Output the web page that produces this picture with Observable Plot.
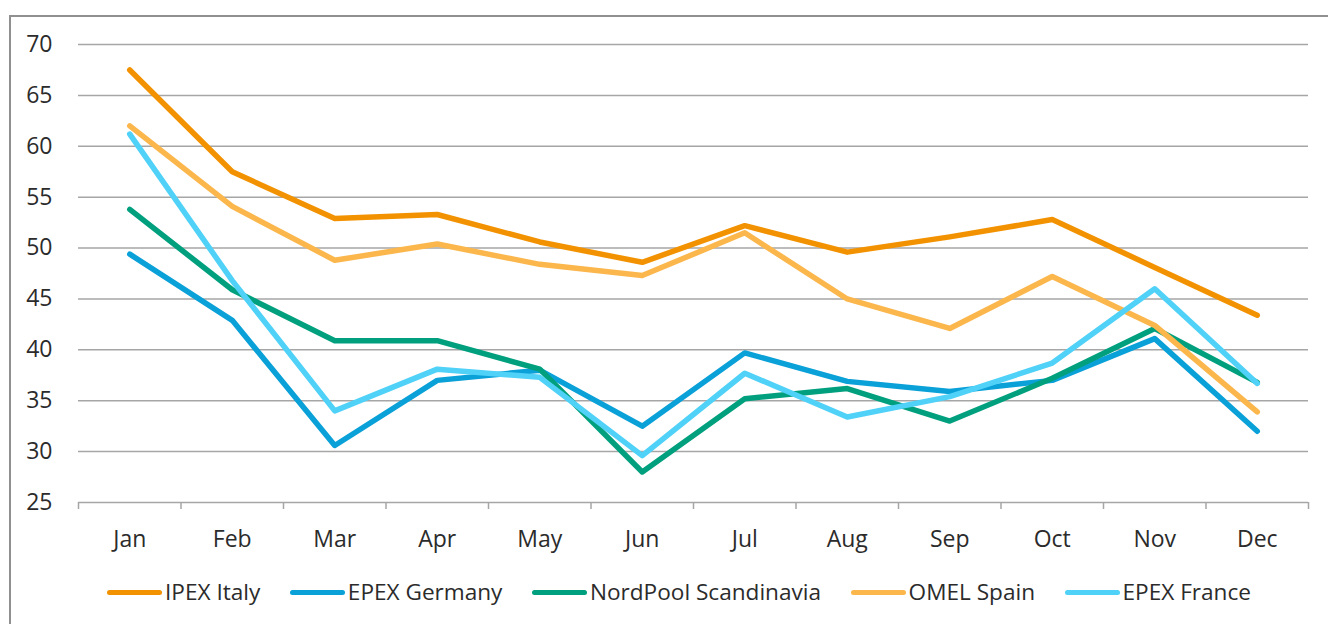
<!DOCTYPE html>
<html>
<head>
<meta charset="utf-8">
<script src="https://cdn.jsdelivr.net/npm/d3@7"></script>
<script src="https://cdn.jsdelivr.net/npm/@observablehq/plot@0.6"></script>
<style>
  html, body { margin: 0; padding: 0; background: #fff; overflow: hidden; }
  body { width: 1328px; height: 624px; position: relative; font-family: "Open Sans", sans-serif; }
  #frame { position: absolute; left: 9px; top: 15px; width: 1340px; height: 640px; border: 2px solid #909090; box-sizing: border-box; }
  #chart { position: absolute; left: 0; top: 0; }
  #legend { position: absolute; left: 107px; top: 576px; display: flex; align-items: center; font-size: 22.6px; line-height: 32px; color: #2b2b2b; white-space: nowrap; }
  .item { display: flex; align-items: center; margin-right: 29.5px; }
  .sw { display: inline-block; width: 55px; height: 5px; border-radius: 3px; margin-right: 3px; }
</style>
</head>
<body>
<div id="frame"></div>
<div id="chart"></div>
<div id="legend"></div>
<script>
const months = ["Jan","Feb","Mar","Apr","May","Jun","Jul","Aug","Sep","Oct","Nov","Dec"];
const seriesNames = ["IPEX Italy", "EPEX Germany", "NordPool Scandinavia", "OMEL Spain", "EPEX France"];
const seriesColors = ["#f39200", "#0aa0d8", "#00a07e", "#fbb64c", "#4fd1f8"];
const italy    = [67.5, 57.5, 52.9, 53.3, 50.6, 48.6, 52.2, 49.6, 51.1, 52.8, 48.1, 43.4];
const germany  = [49.4, 42.9, 30.6, 37.0, 38.0, 32.5, 39.7, 36.9, 35.9, 37.0, 41.1, 32.0];
const nordpool = [53.8, 45.9, 40.9, 40.9, 38.1, 28.0, 35.2, 36.2, 33.0, 37.2, 42.1, 36.8];
const spain    = [62.0, 54.1, 48.8, 50.4, 48.4, 47.3, 51.5, 45.0, 42.1, 47.2, 42.4, 33.9];
const france   = [61.2, 46.8, 34.0, 38.1, 37.3, 29.6, 37.7, 33.4, 35.4, 38.7, 46.0, 36.7];
const yTicks = [25, 30, 35, 40, 45, 50, 55, 60, 65, 70];

const seriesValues = [italy, germany, nordpool, spain, france];
const data = [];
seriesNames.forEach((name, s) => {
  seriesValues[s].forEach((v, i) => data.push({series: name, i, month: months[i], value: v}));
});
const idx = months.map((m, i) => i);
const boundaries = months.map((m, i) => i - 0.5).concat([months.length - 0.5]);

const chart = Plot.plot({
  width: 1328,
  height: 560,
  marginTop: 44,
  marginBottom: 58,
  marginLeft: 78,
  marginRight: 20,
  style: {fontFamily: "Open Sans, sans-serif", fontSize: "23px", color: "#2b2b2b", background: "transparent"},
  x: {type: "linear", domain: [-0.5, months.length - 0.5], axis: null},
  y: {domain: [25, 70], axis: null},
  color: {domain: seriesNames, range: seriesColors},
  marks: [
    Plot.gridY(yTicks.filter(t => t > 25), {stroke: "#a6a6a6", strokeOpacity: 1, strokeWidth: 1.5}),
    Plot.ruleY([25], {stroke: "#a6a6a6", strokeWidth: 1.5}),
    Plot.axisX(boundaries, {tickSize: 7, tickFormat: () => "", label: null, stroke: "#a6a6a6", strokeWidth: 1.5}),
    Plot.axisX(idx, {tickSize: 0, tickPadding: 28, tickFormat: i => months[i], label: null, fontSize: 23, fill: "#2b2b2b"}),
    Plot.axisY(yTicks, {tickSize: 0, tickPadding: 26, label: null, fontSize: 23, fill: "#2b2b2b"}),
    Plot.line(data, {x: "i", y: "value", z: "series", stroke: "series", strokeWidth: 5.5, strokeLinejoin: "round", strokeLinecap: "round"})
  ]
});
document.getElementById("chart").appendChild(chart);

const legend = document.getElementById("legend");
seriesNames.forEach((name, s) => {
  const item = document.createElement("div");
  item.className = "item";
  const sw = document.createElement("span");
  sw.className = "sw";
  sw.style.background = seriesColors[s];
  const label = document.createElement("span");
  label.textContent = name;
  item.appendChild(sw);
  item.appendChild(label);
  legend.appendChild(item);
});
</script>
</body>
</html>
